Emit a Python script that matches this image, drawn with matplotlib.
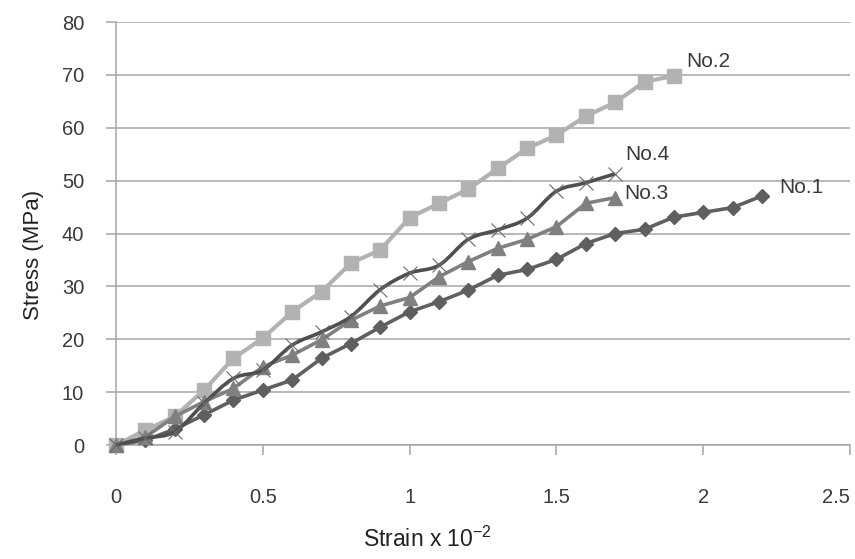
import numpy as np
import matplotlib
matplotlib.use("Agg")
import matplotlib.pyplot as plt
from matplotlib.path import Path
from matplotlib.patches import PathPatch

plt.rcParams["font.family"] = ["Liberation Sans", "DejaVu Sans"]
plt.rcParams["mathtext.fontset"] = "custom"
plt.rcParams["mathtext.rm"] = "Liberation Sans"
plt.rcParams["mathtext.default"] = "regular"

strain_1 = [0, 0.1, 0.2, 0.3, 0.4, 0.5, 0.6, 0.7, 0.8, 0.9, 1.0, 1.1,
            1.2, 1.3, 1.4, 1.5, 1.6, 1.7, 1.8, 1.9, 2.0, 2.1, 2.2]
stress_1 = [0, 0.9, 3.0, 5.7, 8.5, 10.4, 12.3, 16.4, 19.2, 22.3, 25.2, 27.1,
            29.3, 32.1, 33.2, 35.1, 38.1, 40.0, 40.8, 43.1, 44.0, 44.9, 47.1]

strain_2 = [0, 0.1, 0.2, 0.3, 0.4, 0.5, 0.6, 0.7, 0.8, 0.9, 1.0, 1.1,
            1.2, 1.3, 1.4, 1.5, 1.6, 1.7, 1.8, 1.9]
stress_2 = [0, 2.8, 5.4, 10.4, 16.4, 20.2, 25.2, 29.0, 34.4, 36.9, 43.0, 45.7,
            48.4, 52.3, 56.1, 58.6, 62.2, 64.8, 68.7, 69.8]

strain_3 = [0, 0.1, 0.2, 0.3, 0.4, 0.5, 0.6, 0.7, 0.8, 0.9, 1.0, 1.1,
            1.2, 1.3, 1.4, 1.5, 1.6, 1.7]
stress_3 = [0, 1.5, 5.4, 8.2, 10.7, 14.8, 17.0, 19.9, 23.6, 26.3, 27.9, 31.8,
            34.7, 37.2, 38.9, 41.3, 45.7, 46.8]

strain_4 = [0, 0.1, 0.2, 0.3, 0.4, 0.5, 0.6, 0.7, 0.8, 0.9, 1.0, 1.1,
            1.2, 1.3, 1.4, 1.5, 1.6, 1.7]
stress_4 = [0, 1.3, 2.5, 7.9, 12.6, 14.2, 18.9, 21.4, 24.3, 29.4, 32.5, 34.0,
            38.9, 40.7, 42.9, 48.0, 49.6, 51.3]

labels = ["No.1", "No.2", "No.3", "No.4"]
xtick_vals = [0, 0.5, 1, 1.5, 2, 2.5]
xtick_labels = ["0", "0.5", "1", "1.5", "2", "2.5"]


def smooth_path(xs, ys, t=1 / 6):
    # Catmull-Rom style bezier through the points, like Excel's smoothed line
    pts = np.column_stack([xs, ys]).astype(float)
    verts = [pts[0]]
    codes = [Path.MOVETO]
    n = len(pts)
    for i in range(n - 1):
        p0 = pts[max(i - 1, 0)]
        p1 = pts[i]
        p2 = pts[i + 1]
        p3 = pts[min(i + 2, n - 1)]
        c1 = p1 + (p2 - p0) * t
        c2 = p2 - (p3 - p1) * t
        verts += [c1, c2, p2]
        codes += [Path.CURVE4] * 3
    return Path(verts, codes)


fig = plt.figure(figsize=(8.55, 5.59), dpi=100)
ax = fig.add_axes([0.1357, 0.2039, 0.8585, 0.7567])

grid_c = "#a6a6a6"
txt_c = "#3a3a3a"
ax.set_xlim(0, 2.5)
ax.set_ylim(0, 80)
ax.set_yticks(np.arange(0, 81, 10))
ax.set_xticks(xtick_vals)
ax.set_xticklabels(xtick_labels)
ax.get_xticklabels()[-1].set_horizontalalignment("right")
ax.yaxis.grid(True, color=grid_c, linewidth=1.1)
ax.set_axisbelow(True)
for s in ["top", "right"]:
    ax.spines[s].set_visible(False)
for s in ["left", "bottom"]:
    ax.spines[s].set_color(grid_c)
    ax.spines[s].set_linewidth(1.1)
ax.tick_params(axis="x", direction="out", length=7, width=1.1, color=grid_c,
               pad=24, labelsize=14.5, labelcolor=txt_c)
ax.tick_params(axis="y", direction="out", length=7, width=1.1, color=grid_c,
               pad=16, labelsize=14.5, labelcolor=txt_c)

# No.1 dark diamonds
ax.plot(strain_1, stress_1, color="#5f5f5f", lw=2.6, marker="D", ms=7.5,
        mec="#5f5f5f", mfc="#5f5f5f", clip_on=False, zorder=3)
# No.2 light squares
ax.plot(strain_2, stress_2, color="#b2b2b2", lw=3.0, marker="s", ms=10,
        mec="#b2b2b2", mfc="#b2b2b2", clip_on=False, zorder=3)
# No.3 medium triangles
ax.plot(strain_3, stress_3, color="#808080", lw=2.6, marker="^", ms=10,
        mec="#808080", mfc="#808080", clip_on=False, zorder=3)
# No.4 smooth dark line with x markers
patch = PathPatch(smooth_path(strain_4, stress_4), facecolor="none",
                  edgecolor="#4f4f4f", lw=2.6, zorder=4, clip_on=False)
ax.add_patch(patch)
ax.plot(strain_4, stress_4, ls="none", marker="x", ms=10.5, mew=0.8,
        color="#6a6a6a", clip_on=False, zorder=4)

ends = [(strain_1[-1], stress_1[-1], 17, 8),
        (strain_2[-1], stress_2[-1], 12, 14),
        (strain_3[-1], stress_3[-1], 9, 4),
        (strain_4[-1], stress_4[-1], 10, 19)]
for lab, (x, y, dx, dy) in zip(labels, ends):
    ax.annotate(lab, (x, y), xytext=(dx * 0.72, dy * 0.72),
                textcoords="offset points", ha="left", va="center",
                fontsize=15, color=txt_c)

ax.set_ylabel("Stress (MPa)", fontsize=16, color="#222222")
ax.set_xlabel("Strain x 10$^{-2}$", fontsize=16.5, color="#222222")
ax.yaxis.set_label_coords(-0.098, 0.449)
ax.xaxis.set_label_coords(0.424, -0.193)

fig.savefig("out.png", dpi=100)
